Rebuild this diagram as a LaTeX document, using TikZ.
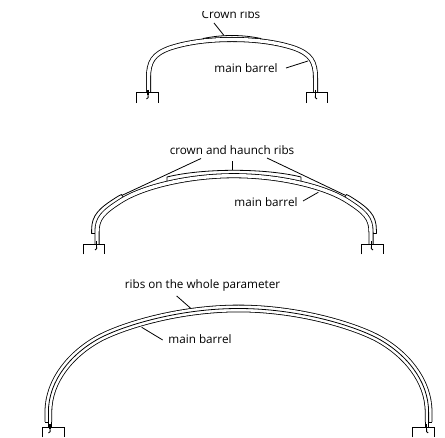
\documentclass[tikz,border=0pt]{standalone}
\usepackage{fontspec}
\setmainfont{Open Sans}
\tikzset{
  wire/.style={line width=.8pt,black},
  barrel/.style={double,double distance=3.4pt,line width=.8pt,draw=black},
  ribbed/.style={double,double distance=6pt,line width=.8pt,draw=black},
  ribshape/.style={fill=white,draw=black,line width=.8pt,line join=round},
  leader/.style={line width=.8pt,black},
  lab/.style={inner sep=0pt,font=\fontsize{11.7}{13}\selectfont,text height=10pt,text depth=0pt},
  footbox/.pic={\draw[wire] (-10.7,10.5)--(-10.7,0)--(10.7,0)--(10.7,10.5);},
  footmark/.pic={\draw[line width=1.5pt] (0,-3)--(0,2); \draw[line width=.9pt] (0,2)..controls (1,4) and (0,5.5)..(-1.5,6);},
  footmarkr/.pic={\draw[line width=1.5pt] (0,-3)--(0,2); \draw[line width=.9pt] (0,2)..controls (-1,4) and (0,5.5)..(1.5,6);}
}
\newcommand\archOne{(148.5,93)--(148.5,78) .. controls (148.5,62) and (153,54) .. (170,48) .. controls (188,42) and (210,39.5) .. (232,39.5) .. controls (254,39.5) and (276,42) .. (294,48) .. controls (311,54) and (315.5,62) .. (315.5,78) -- (315.5,93)}
\newcommand\archTwo{(97,244)--(97,232) .. controls (97,218) and (103,212) .. (123,199.5) .. controls (146,186) and (190,175.7) .. (234,175.7) .. controls (278,175.7) and (322,186) .. (345,199.5) .. controls (365,212) and (371,218) .. (371,232) -- (371,244)}
\newcommand\archThree{(48.4,422)--(48.4,412) .. controls (48.4,380) and (72,353) .. (100,338) .. controls (125,325) and (180,308.5) .. (238.5,308.5) .. controls (297,308.5) and (352,325) .. (377,338) .. controls (405,353) and (428.6,380) .. (428.6,412) -- (428.6,422)}
\begin{document}
\begin{tikzpicture}[x=1pt,y=-1pt]
\useasboundingbox (0,0) rectangle (445,438);
\fill[white] (0,0) rectangle (445,438);

% --- top arch
\node[lab] (crownlab) at (231,14) {Crown ribs};
\fill[white] (190,0) rectangle (275,10.6);
\draw[ribshape] (203,41.5)--(203,38.5) .. controls (213,36.5) and (222,35.5) .. (232,35.5) .. controls (242,35.5) and (251,36.5) .. (261,38.5) -- (261,41.5);
\draw[barrel] \archOne;
\pic at (147.5,92.7) {footbox};
\pic at (317,92.7) {footbox};
\pic at (148,93) {footmark};
\pic at (315.5,93) {footmarkr};
\node[lab] (barrelA) at (246,68) {main barrel};
\coordinate (ribA) at (224,35.5);
\coordinate (mainA) at (308,61);
\draw[leader] ([shift={(-17,9)}]crownlab.center) -- (ribA);
\draw[leader] ([shift={(40,0)}]barrelA.center) -- (mainA);

% --- middle arch
\node[lab] (chlab) at (232,149.5) {crown and haunch ribs};
\draw[ribshape] (167,181)--(167,177) .. controls (185,172.5) and (210,170.3) .. (234,170.3) .. controls (258,170.3) and (283,172.5) .. (301,177)--(301,181);
\draw[ribshape] (95,233.5)--(91.6,233.5)--(91.6,230) .. controls (91.6,215) and (99,208) .. (118.5,196) -- (121.5,194.5)--(123.5,197.5);
\draw[ribshape] (373,233.5)--(376.4,233.5)--(376.4,230) .. controls (376.4,215) and (369,208) .. (349.5,196) -- (346.5,194.5)--(344.5,197.5);
\draw[barrel] \archTwo;
\pic at (94,244) {footbox};
\pic at (372.5,244) {footbox};
\pic at (96.5,244) {footmark};
\pic at (371.5,244) {footmarkr};
\node[lab] (barrelB) at (266,202) {main barrel};
\coordinate (ribBl) at (121.7,195.5);
\coordinate (ribBc) at (232.3,170.5);
\coordinate (ribBr) at (345.7,195.5);
\coordinate (mainB) at (318.3,192.3);
\draw[leader] ([shift={(-31,9)}]chlab.center) -- (ribBl);
\draw[leader] ([shift={(0.3,12)}]chlab.center) -- (ribBc);
\draw[leader] ([shift={(35,8.5)}]chlab.center) -- (ribBr);
\draw[leader] ([shift={(37,-1)}]barrelB.center) -- (mainB);

% --- bottom arch
\node[lab] (wholelab) at (202.5,284) {ribs on the whole parameter};
\draw[ribbed] \archThree;
\draw[wire] \archThree;
\draw[wire] (45,422)--(48.4,422)--(48.4,427);
\draw[wire] (51.8,422)--(51.8,427);
\draw[wire] (432,422)--(428.6,422)--(428.6,427);
\draw[wire] (425.2,422)--(425.2,427);
\pic at (53.5,427) {footbox};
\pic at (423.5,427) {footbox};
\pic at (50,427) {footmark};
\pic at (426.7,427) {footmarkr};
\node[lab] (barrelC) at (200,339) {main barrel};
\coordinate (ribC) at (190.7,308.3);
\coordinate (mainC) at (141.7,327.3);
\draw[leader] ([shift={(-25.8,12)}]wholelab.center) -- (ribC);
\draw[leader] ([shift={(-37.3,1)}]barrelC.center) -- (mainC);
\end{tikzpicture}
\end{document}
